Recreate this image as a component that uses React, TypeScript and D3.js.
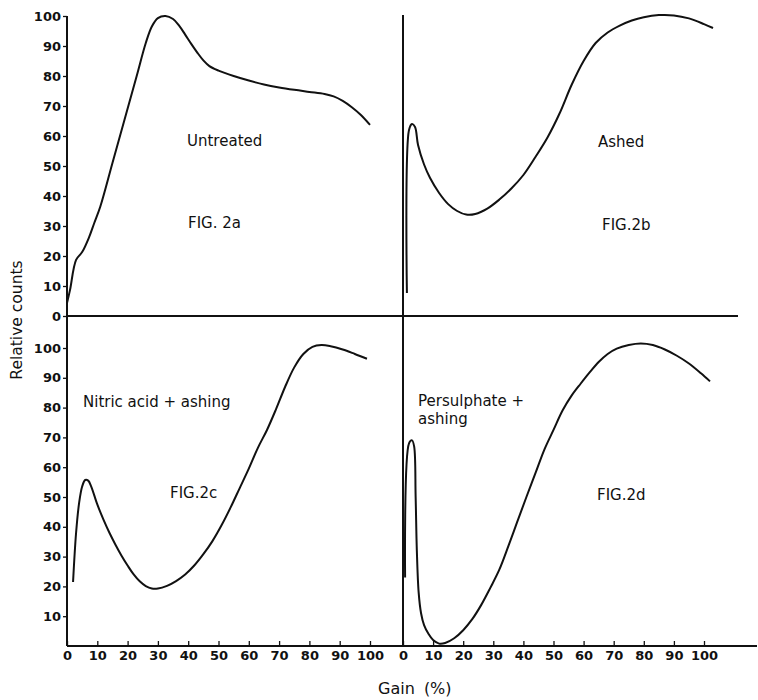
import React, { useEffect, useRef } from 'react';
import * as d3 from 'd3';

// Fig. 2a - untreated
const gainA = [0, 1, 3, 5, 7.3, 9, 11, 15, 19, 23, 26, 28, 30, 32.5, 35, 37, 39, 41, 43, 45, 47, 50, 55, 60, 65, 70, 75, 80, 85, 88, 91, 94, 97, 100];
const countsA = [4.3, 8.7, 18.7, 21.3, 26.3, 31, 36.5, 51, 65.5, 80, 91, 96.5, 99.3, 100, 99, 96.8, 93.8, 90.7, 87.8, 85.2, 83.3, 81.8, 80, 78.5, 77.2, 76.2, 75.4, 74.7, 74, 73.2, 71.7, 69.6, 67, 63.7];

// Fig. 2b - ashed
const gainB = [1.3, 2, 3, 4, 5, 7, 9, 12, 15, 18, 21, 24, 28, 32, 36, 40, 44, 48, 52, 56, 60, 64, 68, 72, 76, 80, 85, 90, 95, 100, 103];
const countsB = [7.7, 62, 64, 63, 57, 50.5, 46, 41, 37.3, 35, 33.8, 34, 35.8, 38.8, 42.5, 47, 53, 59.5, 67.5, 77, 85, 91, 94.5, 96.8, 98.5, 99.6, 100.3, 100.2, 99.2, 97.3, 96];

// Fig. 2c - nitric acid + ashing
const gainC = [2, 3, 4, 5, 6, 7, 8, 10, 12, 14, 16, 18, 20, 22, 24, 26, 28, 30, 33, 36, 39, 42, 45, 48, 51, 54, 57, 60, 63, 66, 69, 72, 75, 78, 81, 84, 87, 91, 95, 99];
const countsC = [21.5, 38, 48, 53.5, 55.7, 55.5, 53.5, 47.5, 42.5, 38, 34, 30.3, 27, 24, 21.7, 20.1, 19.3, 19.3, 20.2, 21.8, 24, 27, 30.8, 35.2, 40.5, 46.5, 53, 59.5, 66.5, 72.5, 79.5, 87, 93.5, 98, 100.4, 101, 100.6, 99.5, 98, 96.4];

// Fig. 2d - persulphate + ashing
const gainD = [0.7, 2, 3, 3.7, 4.2, 4.6, 5.2, 6, 7, 8.5, 10, 12, 14, 17, 20, 23, 26, 29, 32, 35, 38, 41, 44, 47, 50, 53, 56, 59, 62, 65, 68, 71, 75, 79, 83, 87, 91, 95, 99, 102];
const countsD = [23, 68, 69, 67, 50, 32, 18, 11, 7, 4, 2, 0.8, 1, 2.6, 5.3, 9, 13.8, 19.5, 25.6, 33.5, 41.8, 50, 58, 66, 72.5, 79, 84, 88, 91.8, 95.3, 98, 99.8, 101, 101.5, 101, 99.5, 97.4, 94.8, 91.5, 88.8];

const yTicksTop = [0, 10, 20, 30, 40, 50, 60, 70, 80, 90, 100];
const yTicksBottom = [10, 20, 30, 40, 50, 60, 70, 80, 90, 100];
const xTicks = [0, 10, 20, 30, 40, 50, 60, 70, 80, 90, 100];

const INK = '#111';
const FONT = '"DejaVu Sans", sans-serif';

function App() {
  const ref = useRef<SVGSVGElement>(null);

  useEffect(() => {
    const svg = d3.select(ref.current);
    svg.selectAll('*').remove();

    const xLeft = d3.scaleLinear().domain([0, 100]).range([67, 370]);
    const xRight = d3.scaleLinear().domain([0, 100]).range([403, 704]);
    const yTop = d3.scaleLinear().domain([0, 100]).range([316, 16]);
    const yBottom = d3.scaleLinear().domain([0, 100]).range([646, 348]);

    const styleAxis = (g: any) => {
      g.select('.domain').remove();
      g.selectAll('line').attr('stroke', INK).attr('stroke-width', 1.3);
      g.selectAll('text')
        .attr('fill', INK)
        .style('font-family', FONT)
        .style('font-size', '13px')
        .style('font-weight', 'bold');
    };

    // axis lines
    const lines = [
      [xLeft(0), yTop(100), xLeft(0), yBottom(0)],
      [xRight(0), yTop(100) - 1, xRight(0), yBottom(0)],
      [xLeft(0), yTop(0), 738, yTop(0)],
      [xLeft(0), yBottom(0), 757, yBottom(0)],
    ];
    svg.selectAll('line.ax')
      .data(lines)
      .enter()
      .append('line')
      .attr('class', 'ax')
      .attr('x1', d => d[0])
      .attr('y1', d => d[1])
      .attr('x2', d => d[2])
      .attr('y2', d => d[3])
      .attr('stroke', INK)
      .attr('stroke-width', 2);

    // y axes (left side only)
    svg.append('g')
      .attr('transform', `translate(${xLeft(0)},0)`)
      .call(d3.axisLeft(yTop).tickValues(yTicksTop).tickSize(4).tickPadding(2).tickFormat(d3.format('d')))
      .call(styleAxis);

    svg.append('g')
      .attr('transform', `translate(${xLeft(0)},0)`)
      .call(d3.axisLeft(yBottom).tickValues(yTicksBottom).tickSize(4).tickPadding(2).tickFormat(d3.format('d')))
      .call(styleAxis);

    // x axes, ticks pointing up
    [xLeft, xRight].forEach(x => {
      svg.append('g')
        .attr('transform', `translate(0,${yBottom(0)})`)
        .call(d3.axisBottom(x).tickValues(xTicks).tickSizeInner(-5).tickSizeOuter(0).tickPadding(5).tickFormat(d3.format('d')))
        .call(styleAxis);
    });

    // curves
    const panels = [
      { gain: gainA, counts: countsA, x: xLeft, y: yTop },
      { gain: gainB, counts: countsB, x: xRight, y: yTop },
      { gain: gainC, counts: countsC, x: xLeft, y: yBottom },
      { gain: gainD, counts: countsD, x: xRight, y: yBottom },
    ];
    panels.forEach(p => {
      const line = d3.line<number>()
        .x((_, i) => p.x(p.gain[i]))
        .y(d => p.y(d))
        .curve(d3.curveCatmullRom.alpha(0.5));
      svg.append('path')
        .datum(p.counts)
        .attr('d', line)
        .attr('fill', 'none')
        .attr('stroke', INK)
        .attr('stroke-width', 2)
        .attr('stroke-linejoin', 'round');
    });

    // panel labels
    const labels = [
      { text: 'Untreated', x: 187, y: 146 },
      { text: 'FIG. 2a', x: 188, y: 228 },
      { text: 'Ashed', x: 598, y: 147 },
      { text: 'FIG.2b', x: 602, y: 230 },
      { text: 'Nitric acid + ashing', x: 83, y: 407 },
      { text: 'FIG.2c', x: 170, y: 498 },
      { text: 'Persulphate +', x: 418, y: 406 },
      { text: 'ashing', x: 418, y: 424 },
      { text: 'FIG.2d', x: 597, y: 500 },
    ];
    svg.selectAll('text.lbl')
      .data(labels)
      .enter()
      .append('text')
      .attr('class', 'lbl')
      .attr('x', d => d.x)
      .attr('y', d => d.y)
      .attr('fill', INK)
      .style('font-family', FONT)
      .style('font-size', '15px')
      .text(d => d.text);

    svg.append('text')
      .attr('transform', 'translate(22,320) rotate(-90)')
      .attr('text-anchor', 'middle')
      .attr('fill', INK)
      .style('font-family', FONT)
      .style('font-size', '15.5px')
      .text('Relative counts');

    svg.append('text')
      .attr('x', 378)
      .attr('y', 694)
      .attr('fill', INK)
      .style('font-family', FONT)
      .style('font-size', '16px')
      .style('word-spacing', '4px')
      .text('Gain (%)');
  }, []);

  return (
    <svg
      ref={ref}
      width={758}
      height={700}
      style={{ position: 'absolute', left: 0, top: 0, background: '#fff' }}
    />
  );
}

export default App;
